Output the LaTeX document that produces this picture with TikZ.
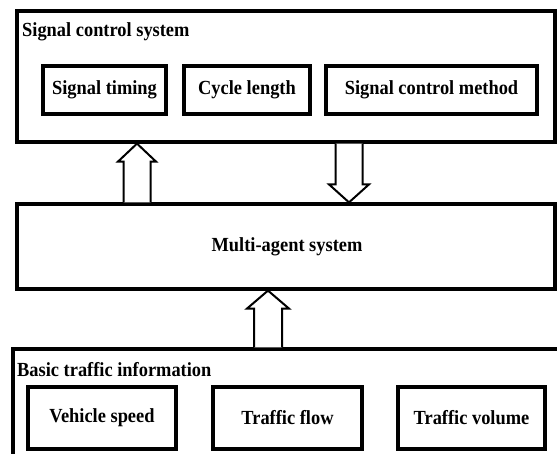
\documentclass[tikz,border=0pt]{standalone}
\usepackage{fontspec}
\setmainfont{Liberation Serif}[FakeStretch=0.92]
\usetikzlibrary{calc}
\begin{document}
\begin{tikzpicture}[x=1pt,y=-1pt,
  every node/.style={font=\fontsize{20}{24}\selectfont\bfseries},
  outerbox/.style={draw, line width=3.2pt, inner sep=0pt, rectangle},
  innerbox/.style={draw, line width=4.5pt, inner sep=0pt, rectangle},
  title/.style={inner sep=0pt, anchor=base west},
  blk/.style={draw, line width=2pt, line join=miter, fill=white}]
\useasboundingbox (0,0) rectangle (557,454);
\clip (0,0) rectangle (557,454);
% top system
\node[outerbox, minimum width=538pt, minimum height=131pt] (sys) at (286,76.5) {};
\node[title] (systitle) at (22,37) {Signal control system};
\node[innerbox, minimum width=123pt, minimum height=48pt] (st) at (104.5,90) {Signal timing};
\node[innerbox, minimum width=126pt, minimum height=48pt] (cl) at (247,90) {Cycle length};
\node[innerbox, minimum width=211pt, minimum height=48pt] (scm) at (431.5,90) {Signal control method};
% multi-agent
\node[outerbox, minimum width=538pt, minimum height=85pt] (mas) at (286,246.5) {};
\node (mastext) at (287,246.5) {Multi-agent system};
% basic info
\node[outerbox, minimum width=587pt, minimum height=131pt] (bti) at (306.5,414.5) {};
\node[title] (btititle) at (17,376) {Basic traffic information};
\node[innerbox, minimum width=148pt, minimum height=62pt] (vs) at (102,418) {Vehicle speed};
\node[innerbox, minimum width=149pt, minimum height=62pt] (tf) at (287.5,418) {Traffic flow};
\node[innerbox, minimum width=147pt, minimum height=62pt] (tv) at (471.5,418) {Traffic volume};
% arrow 1: MAS -> signal control system (up)
\coordinate (a1s) at (137,0 |- mas.north);
\coordinate (a1t) at (137,0 |- sys.south);
\draw[blk] ($(a1s)+(-13.5,0)$) -- ($(a1t)+(-13.5,18)$) -- ($(a1t)+(-19,18)$) -- (a1t)
  -- ($(a1t)+(19,18)$) -- ($(a1t)+(13.5,18)$) -- ($(a1s)+(13.5,0)$);
% arrow 2: signal control system -> MAS (down)
\coordinate (a2s) at (349,0 |- sys.south);
\coordinate (a2t) at (349,0 |- mas.north);
\draw[blk] ($(a2s)+(-13.5,0)$) -- ($(a2t)+(-13.5,-18)$) -- ($(a2t)+(-20,-18)$) -- (a2t)
  -- ($(a2t)+(20,-18)$) -- ($(a2t)+(13.5,-18)$) -- ($(a2s)+(13.5,0)$);
% arrow 3: basic info -> MAS (up)
\coordinate (a3s) at (268,0 |- bti.north);
\coordinate (a3t) at (268,0 |- mas.south);
\draw[blk] ($(a3s)+(-14,0)$) -- ($(a3t)+(-14,18)$) -- ($(a3t)+(-21,18)$) -- (a3t)
  -- ($(a3t)+(21,18)$) -- ($(a3t)+(14,18)$) -- ($(a3s)+(14,0)$);
\end{tikzpicture}
\end{document}
